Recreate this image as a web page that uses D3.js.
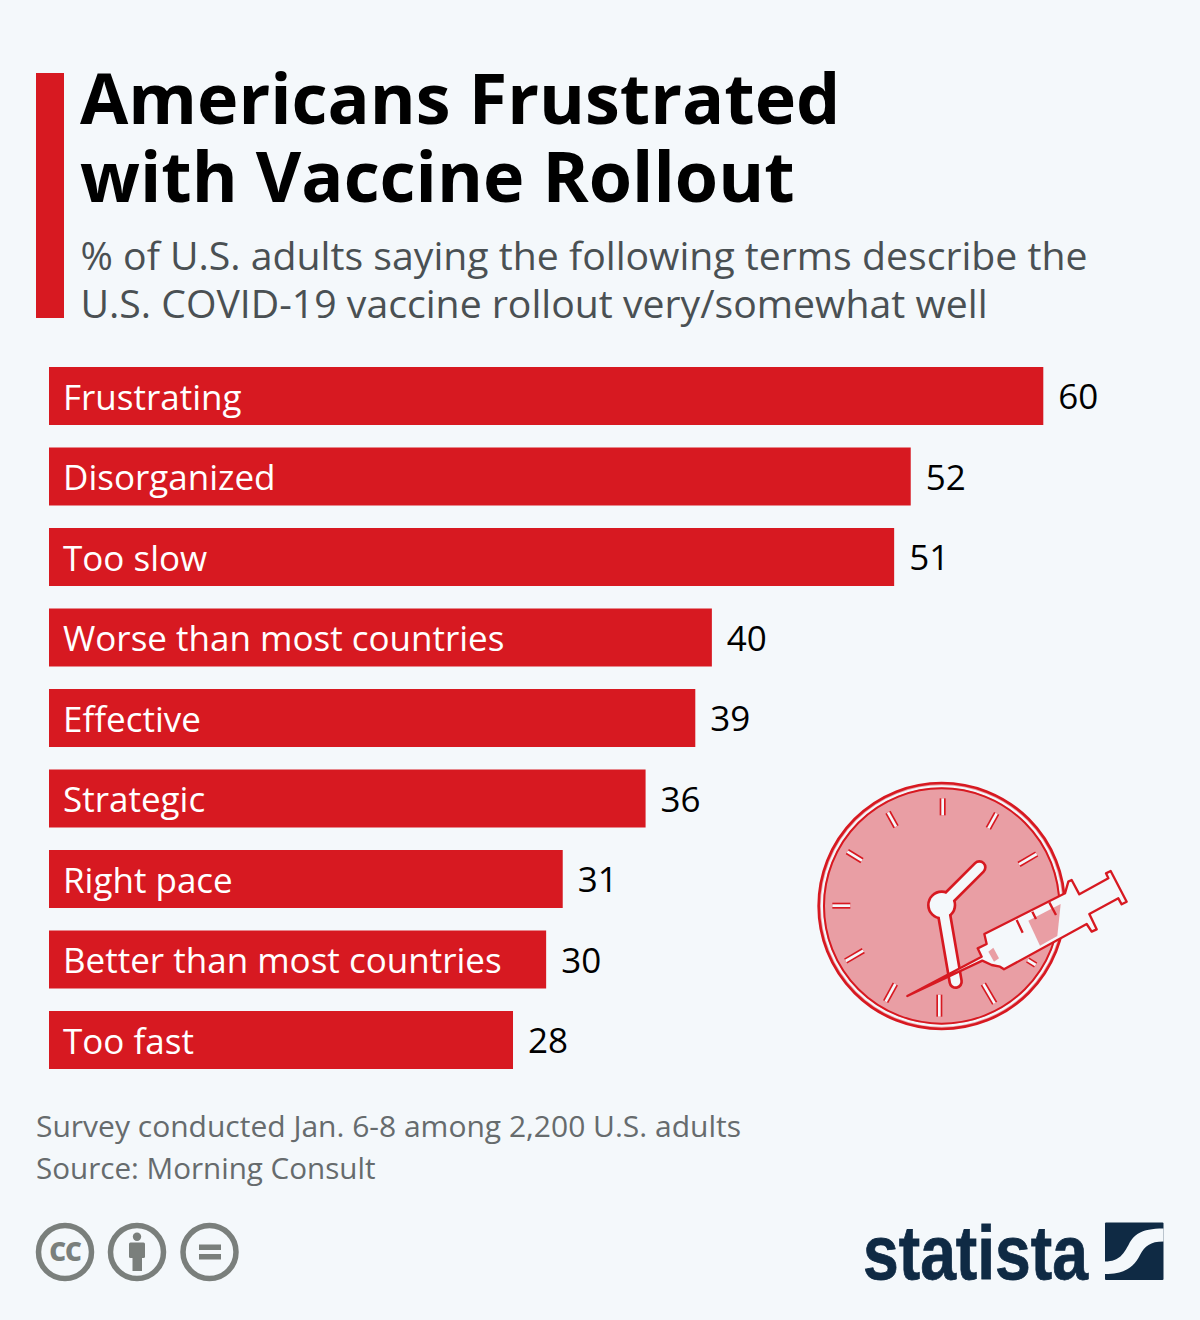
<!DOCTYPE html>
<html><head><meta charset="utf-8">
<script src="https://cdn.jsdelivr.net/npm/d3@7/dist/d3.min.js"></script>
<style>html,body{margin:0;padding:0;background:#f4f8fb}svg{display:block}text{font-family:"Open Sans",sans-serif}</style>
</head><body><svg id="c" width="1200" height="1320"></svg>
<script>
const categories=["Frustrating","Disorganized","Too slow","Worse than most countries","Effective","Strategic","Right pace","Better than most countries","Too fast"];
const values=[60,52,51,40,39,36,31,30,28];
const titleLines=["Americans Frustrated","with Vaccine Rollout"];
const subtitleLines=["% of U.S. adults saying the following terms describe the","U.S. COVID-19 vaccine rollout very/somewhat well"];
const footerLines=["Survey conducted Jan. 6-8 among 2,200 U.S. adults","Source: Morning Consult"];

const BG="#f4f8fb",RED="#d71921",PINK="#e99ea4",GREY="#7a7f7c";
const svg=d3.select("#c");
svg.append("rect").attr("width",1200).attr("height",1320).attr("fill",BG);
svg.append("rect").attr("x",36).attr("y",73).attr("width",28).attr("height",245).attr("fill",RED);
svg.selectAll(".t").data(titleLines).join("text").attr("class","t").attr("x",80).attr("y",(d,i)=>124+i*78)
  .attr("font-size",70).attr("font-weight",700).attr("fill","#000").text(d=>d);
svg.selectAll(".s").data(subtitleLines).join("text").attr("class","s").attr("x",80.5).attr("y",(d,i)=>270+i*48)
  .attr("font-size",39.2).attr("fill","#4a5053").text(d=>d);

const x=d3.scaleLinear().domain([0,60]).range([49,1043.3]);
const y=d3.scaleBand().domain(categories).range([367,1069]).paddingInner(0.2795).paddingOuter(0);
const rows=svg.selectAll(".r").data(categories).join("g").attr("class","r");
rows.append("rect").attr("x",x(0)).attr("y",d=>y(d)).attr("height",y.bandwidth())
  .attr("width",(d,i)=>x(values[i])-x(0)).attr("fill",RED);
rows.append("text").attr("x",63).attr("y",d=>y(d)+43).attr("font-size",35).attr("fill","#fff").text(d=>d);
rows.append("text").attr("x",(d,i)=>x(values[i])+15).attr("y",d=>y(d)+42.2).attr("font-size",35).attr("fill","#000").text((d,i)=>values[i]);

svg.selectAll(".f").data(footerLines).join("text").attr("class","f").attr("x",36).attr("y",(d,i)=>1137+i*42)
  .attr("font-size",(d,i)=>i?29.6:30).attr("fill","#666b6d").text(d=>d);

// clock + syringe illustration (drawn in the reference's zoomed pixel frame)
const ic=svg.append("g").attr("transform","translate(800,770) scale(0.33333)");
ic.append("circle").attr("cx",425).attr("cy",408).attr("r",369).attr("fill",PINK).attr("stroke",RED).attr("stroke-width",8);
ic.append("circle").attr("cx",425).attr("cy",408).attr("r",359).attr("fill","none").attr("stroke",BG).attr("stroke-width",7);
ic.append("circle").attr("cx",425).attr("cy",408).attr("r",353).attr("fill","none").attr("stroke",RED).attr("stroke-width",6);
const ticks=[[428,85,428,136],[264,127,288,170],[590,130,565,175],[142,245,186,272],[710,252,657,283],[97,407,151,407],[190,542,137,573],[286,642,257,695],[418,674,418,740],[550,642,584,700],[683,570,707,585]];
ticks.forEach(t=>{
 ic.append("line").attr("x1",t[0]).attr("y1",t[1]).attr("x2",t[2]).attr("y2",t[3]).attr("stroke",RED).attr("stroke-width",18);
 ic.append("line").attr("x1",t[0]).attr("y1",t[1]).attr("x2",t[2]).attr("y2",t[3]).attr("stroke",BG).attr("stroke-width",8);
});
const hands="M425,405L538,292M430,420L467,635";
ic.append("path").attr("d",hands).attr("fill","none").attr("stroke",RED).attr("stroke-width",44).attr("stroke-linecap","round");
ic.append("circle").attr("cx",425).attr("cy",405).attr("r",44).attr("fill",RED);
ic.append("path").attr("d",hands).attr("fill","none").attr("stroke",BG).attr("stroke-width",28).attr("stroke-linecap","round");
ic.append("circle").attr("cx",425).attr("cy",405).attr("r",36).attr("fill",BG);
ic.append("path").attr("d","M322,678L545,560L533,535L560,522L553,492L795,370L805,335L815,330L838,373L925,325L918,310L932,303L980,395L965,403L955,385L868,432L890,478L875,485L860,462L612,598L600,590L575,585L547,572Z")
  .attr("fill",BG).attr("stroke",RED).attr("stroke-width",7).attr("stroke-linejoin","round");
ic.append("path").attr("d","M685,452L782,402L772,498L720,527Z").attr("fill",PINK);
ic.append("path").attr("d","M565,545L580,533L597,565L582,575Z").attr("fill",PINK);
ic.append("path").attr("d","M650,450L668,488M697,425L708,447M748,397L768,435").attr("stroke",RED).attr("stroke-width",7).attr("fill","none");

// licence badges
const bx=[65,137,209.5];
bx.forEach(c=>svg.append("circle").attr("cx",c).attr("cy",1252).attr("r",26.5).attr("fill","none").attr("stroke",GREY).attr("stroke-width",5.5));
svg.append("text").attr("x",65).attr("y",1261).attr("text-anchor","middle").attr("font-size",26).attr("font-weight",800).attr("letter-spacing",-1).attr("fill",GREY).text("CC");
svg.append("circle").attr("cx",137).attr("cy",1236.7).attr("r",4.2).attr("fill",GREY);
svg.append("rect").attr("x",129).attr("y",1242.5).attr("width",16).attr("height",15.5).attr("rx",1.5).attr("fill",GREY);
svg.append("rect").attr("x",132.5).attr("y",1256).attr("width",9.5).attr("height",15).attr("fill",GREY);
svg.append("rect").attr("x",199).attr("y",1244.5).attr("width",22).attr("height",5.5).attr("fill",GREY);
svg.append("rect").attr("x",199).attr("y",1254).attr("width",22).attr("height",5.5).attr("fill",GREY);

// logo
const NAVY="#0f2a44";
svg.append("text").attr("x",863).attr("y",1279).attr("font-size",76).attr("font-weight",700)
  .attr("textLength",225).attr("lengthAdjust","spacingAndGlyphs")
  .attr("stroke",NAVY).attr("stroke-width",0.8)
  .style("font-family","'Liberation Sans Narrow','Liberation Sans',sans-serif").attr("fill",NAVY).text("statista");
svg.append("rect").attr("x",1105).attr("y",1222.5).attr("width",58.5).attr("height",57.5).attr("rx",1).attr("fill",NAVY);
svg.append("path").attr("d","M1105,1261.5C1120,1261.5 1124,1253 1129,1244C1134,1235 1140,1228.5 1163.5,1228.5L1163.5,1241.5C1150,1241.5 1145,1246 1140,1255C1134,1267 1125,1274 1105,1274Z").attr("fill",BG);
</script></body></html>
